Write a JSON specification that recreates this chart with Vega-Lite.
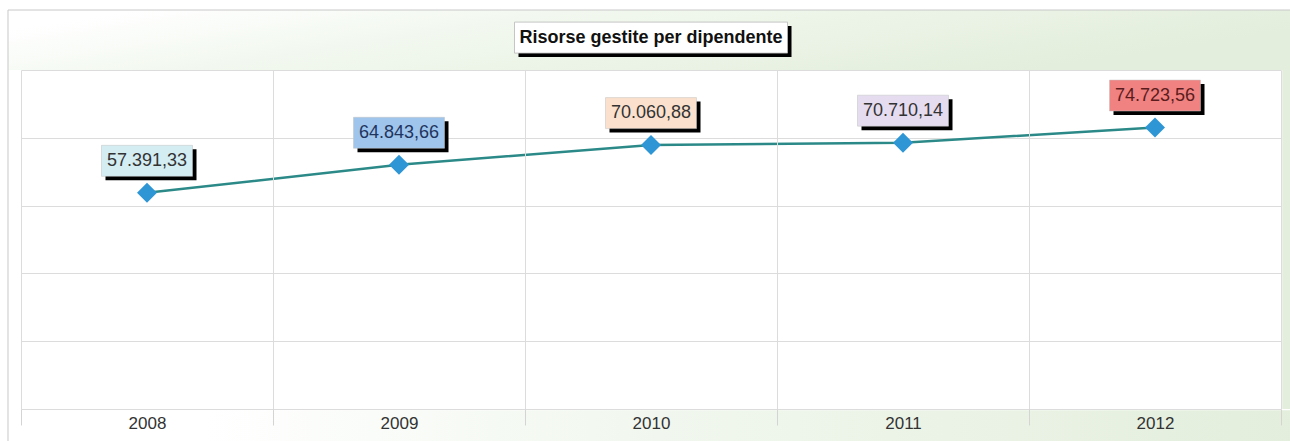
{
  "$schema": "https://vega.github.io/schema/vega-lite/v6.json",
  "width": 1260,
  "height": 339,
  "autosize": {"type": "none"},
  "padding": {"left": 21, "top": 70, "right": 9, "bottom": 32},
  "background": "#ffffff",
  "config": {
    "view": {"stroke": null, "fill": "#ffffff"},
    "locale": {"number": {"decimal": ",", "thousands": ".", "grouping": [3], "currency": ["€", ""]}},
    "font": "Liberation Sans"
  },
  "data": {"values": [
    {"anno": 2008, "valore": 57391.33},
    {"anno": 2009, "valore": 64843.66},
    {"anno": 2010, "valore": 70060.88},
    {"anno": 2011, "valore": 70710.14},
    {"anno": 2012, "valore": 74723.56}
  ]},
  "layer": [
    {
      "mark": {"type": "line", "color": "#2b8a88", "strokeWidth": 2.5},
      "encoding": {
        "x": {
          "field": "anno", "type": "quantitative", "title": null,
          "scale": {"domain": [2007.5, 2012.5], "nice": false, "zero": false},
          "axis": {
            "orient": "bottom",
            "values": [2007.5, 2008, 2008.5, 2009, 2009.5, 2010, 2010.5, 2011, 2011.5, 2012, 2012.5],
            "title": null,
            "domain": false,
            "labelExpr": "datum.value % 1 == 0 ? '' + datum.value : ''",
            "labelFont": "Liberation Sans",
            "labelFontSize": 17,
            "labelColor": "#333333",
            "labelPadding": -10,
            "labelFlush": false,
            "labelOverlap": false,
            "labelBound": false,
            "tickSize": 16,
            "tickColor": "#d4d4d4",
            "tickOpacity": {"condition": {"test": "datum.value % 1 != 0", "value": 1}, "value": 0},
            "grid": true,
            "gridColor": "#dcdcdc",
            "gridOpacity": {"condition": {"test": "datum.value % 1 != 0", "value": 1}, "value": 0},
            "zindex": 1
          }
        },
        "y": {
          "field": "valore", "type": "quantitative", "title": null,
          "scale": {"domain": [0, 90000], "nice": false, "zero": true},
          "axis": {
            "orient": "left",
            "values": [0, 18000, 36000, 54000, 72000, 90000],
            "title": null,
            "labels": false,
            "ticks": false,
            "domain": false,
            "grid": true,
            "gridColor": "#dcdcdc"
          }
        }
      }
    },
    {
      "data": {"values": [{}]},
      "mark": {"type": "rect", "fill": {"gradient": "linear", "x1": 0, "y1": 0, "x2": 1, "y2": 0.3, "stops": [{"offset": 0, "color": "#ffffff"}, {"offset": 0.09, "color": "#ffffff"}, {"offset": 0.4, "color": "#f2f8ef"}, {"offset": 1, "color": "#e3eedc"}]}},
      "encoding": {
        "x": {"datum": 2007.4484, "type": "quantitative", "title": null},
        "x2": {"datum": 2012.6},
        "y": {"datum": 105929, "type": "quantitative", "title": null},
        "y2": {"datum": 90000}
      }
    },
    {
      "data": {"values": [{}]},
      "mark": {"type": "rect", "fill": {"gradient": "linear", "x1": 0, "y1": 0, "x2": 1, "y2": 0, "stops": [{"offset": 0, "color": "#ffffff"}, {"offset": 0.15, "color": "#ffffff"}, {"offset": 0.5, "color": "#f1f7ee"}, {"offset": 1, "color": "#e3eedc"}]}},
      "encoding": {
        "x": {"datum": 2007.4484, "type": "quantitative", "title": null},
        "x2": {"datum": 2012.6},
        "y": {"datum": -300, "type": "quantitative", "title": null},
        "y2": {"datum": -9000}
      }
    },
    {
      "data": {"values": [{}]},
      "mark": {"type": "rect", "fill": "#ffffff"},
      "encoding": {
        "x": {"datum": 2007.4484, "type": "quantitative", "title": null},
        "x2": {"datum": 2007.4975},
        "y": {"datum": 0, "type": "quantitative", "title": null},
        "y2": {"datum": 90000}
      }
    },
    {
      "data": {"values": [{}]},
      "mark": {"type": "rect", "fill": "#e3eedc"},
      "encoding": {
        "x": {"datum": 2012.505, "type": "quantitative", "title": null},
        "x2": {"datum": 2012.6},
        "y": {"datum": 0, "type": "quantitative", "title": null},
        "y2": {"datum": 90000}
      }
    },
    {
      "data": {"values": [{}]},
      "mark": {"type": "rect", "fillOpacity": 0, "stroke": "#c8c8c8", "strokeWidth": 1},
      "encoding": {
        "x": {"datum": 2007.4484, "type": "quantitative", "title": null},
        "x2": {"datum": 2012.7},
        "y": {"datum": 105929, "type": "quantitative", "title": null},
        "y2": {"datum": -9000}
      }
    },
    {
      "mark": {"type": "point", "shape": "M-45.5,-15.5H45.5V15.5H-45.5Z", "size": 4, "filled": true, "opacity": 1, "color": "#000000", "xOffset": 4, "yOffset": -28},
      "encoding": {
        "x": {"field": "anno", "type": "quantitative", "title": null},
        "y": {"field": "valore", "type": "quantitative", "title": null}
      }
    },
    {
      "mark": {"type": "point", "shape": "M-45.5,-15.5H45.5V15.5H-45.5Z", "size": 4, "filled": true, "opacity": 1, "yOffset": -32, "stroke": "#c0c0c0", "strokeWidth": 0.5},
      "encoding": {
        "x": {"field": "anno", "type": "quantitative", "title": null},
        "y": {"field": "valore", "type": "quantitative", "title": null},
        "fill": {"field": "anno", "type": "nominal", "scale": {"domain": [2008, 2009, 2010, 2011, 2012], "range": ["#d4edf3", "#9fc5ec", "#fbe1cd", "#e5dcef", "#f08282"]}, "legend": null}
      }
    },
    {
      "mark": {"type": "text", "dy": -32, "font": "Liberation Sans", "fontSize": 18, "align": "center", "baseline": "middle"},
      "encoding": {
        "x": {"field": "anno", "type": "quantitative", "title": null},
        "y": {"field": "valore", "type": "quantitative", "title": null},
        "text": {"field": "valore", "type": "quantitative", "format": ",.2f"},
        "color": {"field": "anno", "type": "nominal", "scale": {"domain": [2008, 2009, 2010, 2011, 2012], "range": ["#333333", "#1f3560", "#333333", "#333333", "#5a1c1c"]}, "legend": null}
      }
    },
    {
      "mark": {"type": "point", "shape": "diamond", "size": 400, "filled": true, "opacity": 1, "color": "#2f96d6"},
      "encoding": {
        "x": {"field": "anno", "type": "quantitative", "title": null},
        "y": {"field": "valore", "type": "quantitative", "title": null}
      }
    },
    {
      "data": {"values": [{"titolo": "Risorse gestite per dipendente"}]},
      "layer": [
        {
          "mark": {"type": "point", "shape": "M-136.5,-15.5H136.5V15.5H-136.5Z", "size": 4, "filled": true, "opacity": 1, "color": "#000000", "xOffset": 4, "yOffset": 4},
          "encoding": {
            "x": {"datum": 2010, "type": "quantitative", "title": null},
            "y": {"datum": 98600, "type": "quantitative", "title": null}
          }
        },
        {
          "mark": {"type": "point", "shape": "M-136.5,-15.5H136.5V15.5H-136.5Z", "size": 4, "filled": true, "opacity": 1, "fill": "#ffffff", "stroke": "#b8b8b8", "strokeWidth": 0.8},
          "encoding": {
            "x": {"datum": 2010, "type": "quantitative", "title": null},
            "y": {"datum": 98600, "type": "quantitative", "title": null}
          }
        },
        {
          "mark": {"type": "text", "font": "Liberation Sans", "fontSize": 18, "fontWeight": "bold", "color": "#111111", "align": "center", "baseline": "middle"},
          "encoding": {
            "x": {"datum": 2010, "type": "quantitative", "title": null},
            "y": {"datum": 98600, "type": "quantitative", "title": null},
            "text": {"field": "titolo", "type": "nominal"}
          }
        }
      ]
    }
  ]
}
